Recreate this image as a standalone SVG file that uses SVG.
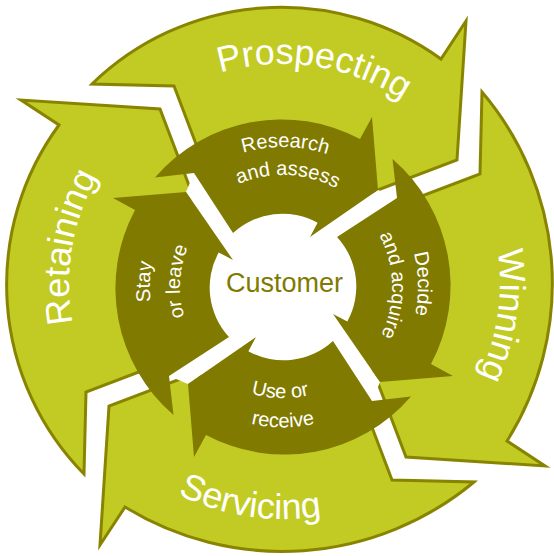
<svg xmlns="http://www.w3.org/2000/svg" width="554" height="556" viewBox="0 0 554 556">
  <style>
    .outer { fill: #C2CB23; stroke: #898400; stroke-width: 3; stroke-linejoin: miter; stroke-miterlimit: 10; }
    .inner { fill: #807A00; }
    .gap { fill: #FFFFFF; }
    .big { font-family: "Liberation Sans", Arial, sans-serif; font-size: 36px; fill: #FFFFFF; }
    .small { font-family: "Liberation Sans", Arial, sans-serif; font-size: 20px; fill: #FFFFFF; }
    .hub { font-family: "Liberation Sans", Arial, sans-serif; font-size: 27px; fill: #807A00; }
  </style>
  <defs>
    <!-- baselines for the curved labels -->
    <path id="arcProspecting" d="M92.3,173.5 A219,219 0 0 1 495.4,233.7"/>
    <path id="arcWinning" d="M391.5,95.1 A217,217 0 0 1 333.3,494.1"/>
    <path id="arcServicing" d="M53,336.1 A236,236 0 0 0 487.4,401"/>
    <path id="arcRetaining" d="M172.8,466.4 A214,214 0 0 1 238.5,73.7"/>
    <path id="arcResearch" d="M145.1,262.7 A140,140 0 0 1 421.6,267.5"/>
    <path id="arcAssess" d="M172.7,267.6 A112,112 0 0 1 394.6,277.2"/>
    <path id="arcDecide" d="M283,153 A134,134 0 0 1 289.1,420.9"/>
    <path id="arcAcquire" d="M283,177 A110,110 0 0 1 286.8,396.9"/>
    <path id="arcUse" d="M171,287 A112,112 0 0 0 394.8,292.9"/>
    <path id="arcReceive" d="M143.5,299.2 A140,140 0 0 0 422.5,299.2"/>
    <path id="arcStay" d="M259.9,418 A133,133 0 0 1 270,154.6"/>
    <path id="arcLeave" d="M265.1,388.4 A103,103 0 0 1 275.8,184.2"/>
  </defs>

  <!-- outer cycle -->
  <g id="prospecting">
    <path class="outer" d="M92,84 A272,272 0 0 1 441,59 L466,21 L457,160 L370,193 A125,125 0 0 0 210,181 L174,86 Z"/>
    <text class="big"><textPath href="#arcProspecting" startOffset="50%" text-anchor="middle">Prospecting</textPath></text>
  </g>
  <g id="winning">
    <path class="outer" d="M482,92 A296,296 0 0 1 507,441 L545,466 L406,457 L373,370 A125,125 0 0 0 385,210 L480,174 Z"/>
    <text class="big"><textPath href="#arcWinning" startOffset="50%" text-anchor="middle">Winning</textPath></text>
  </g>
  <g id="servicing">
    <path class="outer" d="M474,482 A300,300 0 0 1 125,507 L100,545 L109,406 L196,373 A125,125 0 0 0 356,385 L392,480 Z"/>
    <text class="big"><textPath href="#arcServicing" startOffset="50%" text-anchor="middle">Servicing</textPath></text>
  </g>
  <g id="retaining">
    <path class="outer" d="M84,474 A270,270 0 0 1 59,125 L21,100 L160,109 L193,196 A125,125 0 0 0 181,356 L86,392 Z"/>
    <text class="big"><textPath href="#arcRetaining" startOffset="50%" text-anchor="middle">Retaining</textPath></text>
  </g>

  <!-- white channels between the inner stages -->
  <g id="gaps">
    <polygon class="gap" points="378,190 310,237 337,237 397,198"/>
    <polygon class="gap" points="380,382 333,314 333,341 372,401"/>
    <polygon class="gap" points="188,384 256,337 229,337 169,376"/>
    <polygon class="gap" points="186,192 233,260 233,233 194,173"/>
  </g>

  <!-- hub -->
  <g id="customer">
    <circle cx="283" cy="287" r="73" fill="#FFFFFF"/>
    <text class="hub" x="284.5" y="292" text-anchor="middle">Customer</text>
  </g>

  <!-- inner cycle -->
  <g id="research">
    <path class="inner" d="M155,177.5 A167,167 0 0 1 360,139 L372,117 L378,190 L310,237 L317.6,222.7 A73,73 0 0 0 233,233 L194,173 Z"/>
    <text class="small"><textPath href="#arcResearch" startOffset="50%" text-anchor="middle">Research</textPath></text>
    <text class="small"><textPath href="#arcAssess" startOffset="50%" text-anchor="middle">and assess</textPath></text>
  </g>
  <g id="decide">
    <path class="inner" d="M392.5,159 A167,167 0 0 1 431,364 L453,376 L380,382 L333,314 L347.3,321.6 A73,73 0 0 0 337,237 L397,198 Z"/>
    <text class="small"><textPath href="#arcDecide" startOffset="50%" text-anchor="middle">Decide</textPath></text>
    <text class="small"><textPath href="#arcAcquire" startOffset="50%" text-anchor="middle">and acquire</textPath></text>
  </g>
  <g id="use">
    <path class="inner" d="M411,396.5 A167,167 0 0 1 206,435 L194,457 L188,384 L256,337 L248.4,351.3 A73,73 0 0 0 333,341 L372,401 Z"/>
    <text class="small"><textPath href="#arcUse" startOffset="50%" text-anchor="middle">Use or</textPath></text>
    <text class="small"><textPath href="#arcReceive" startOffset="50%" text-anchor="middle">receive</textPath></text>
  </g>
  <g id="stay">
    <path class="inner" d="M173.5,415 A167,167 0 0 1 135,210 L113,198 L186,192 L233,260 L218.7,252.4 A73,73 0 0 0 229,337 L169,376 Z"/>
    <text class="small"><textPath href="#arcStay" startOffset="50%" text-anchor="middle">Stay</textPath></text>
    <text class="small"><textPath href="#arcLeave" startOffset="50%" text-anchor="middle">or leave</textPath></text>
  </g>
</svg>
